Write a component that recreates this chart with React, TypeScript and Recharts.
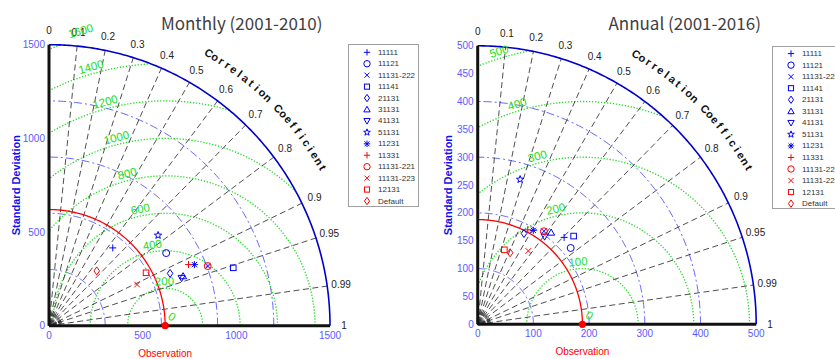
import React from 'react';
import { ScatterChart, Scatter, XAxis, YAxis } from 'recharts';

// ---------------- data ----------------
const modelNames = ['11111', '11121', '11131-222', '11141', '21131', '31131', '41131', '51131', '11231', '11331', '11131-221', '11131-223', '12131', 'Default'];
const modelMarkers = ['plus', 'circle', 'x', 'square', 'diamond', 'triangle', 'triangleDown', 'star', 'asterisk', 'plus', 'circle', 'x', 'square', 'diamond'];
const modelColors = ['#0000ff', '#0000ff', '#0000ff', '#0000ff', '#0000ff', '#0000ff', '#0000ff', '#0000ff', '#0000ff', '#ff0000', '#ff0000', '#ff0000', '#ff0000', '#ff0000'];

// Monthly (2001-2010): standard deviation and correlation of each model
const monthlyStd = [537, 736, 905, 1031, 704, 763, 752, 756, 842, 813, 905, 519, 590, 388];
const monthlyCorr = [0.634, 0.85, 0.936, 0.954, 0.918, 0.938, 0.941, 0.77, 0.922, 0.916, 0.936, 0.906, 0.878, 0.657];
const monthlyObs = 620;
const monthlyXTicks = [0, 500, 1000, 1500];
const monthlyYTicks = [0, 500, 1000, 1500];
const monthlyStdCircles = [300, 600, 900, 1200];
const monthlyRms = [200, 400, 600, 800, 1000, 1200, 1400, 1600];

// Annual (2001-2016)
const annualStd = [220, 216, 205, 234, 183, 211, 198, 271, 196, 192, 205, 160, 142, 141];
const annualCorr = [0.705, 0.773, 0.58, 0.736, 0.454, 0.625, 0.607, 0.281, 0.509, 0.468, 0.58, 0.568, 0.337, 0.413];
const annualObs = 188;
const annualXTicks = [0, 100, 200, 300, 400, 500];
const annualYTicks = [0, 50, 100, 150, 200, 250, 300, 350, 400, 450, 500];
const annualStdCircles = [100, 200, 300, 400];
const annualRms = [100, 200, 300, 400, 500];

const corrTicks = [0, 0.1, 0.2, 0.3, 0.4, 0.5, 0.6, 0.7, 0.8, 0.9, 0.95, 0.99, 1];
const corrLines = [0.1, 0.2, 0.3, 0.4, 0.5, 0.6, 0.7, 0.8, 0.9, 0.95, 0.99];
const corrMinor = [0.05, 0.15, 0.25, 0.35, 0.45, 0.55, 0.65, 0.75, 0.85, 0.91, 0.92, 0.93, 0.94, 0.96, 0.97, 0.98];
const corrTitle = 'Correlation Coefficient';

// ---------------- style ----------------
const F = 'Arial, "Liberation Sans", sans-serif';
const TICK_BLUE = '#5a5aff';
const GREEN = '#22dd22';
const DASHBLUE = '#3c3cff';

const monthlyCfg = {
  title: 'Monthly (2001-2010)', left: 0, R: 1500, ox: 49, oy: 325.7, k: 281 / 1500, Xmax: 1800, Ymax: 1700,
  xTicks: monthlyXTicks, yTicks: monthlyYTicks, obs: monthlyObs, std: monthlyStd, corr: monthlyCorr,
  stdCircles: monthlyStdCircles, rms: monthlyRms, rmsAngles: [91, 99, 102, 104, 104.5, 105, 106, 106],
  ylabelDx: -33, titleX: 241.7, legendX: 348, legendY: 44, legendRow0: 8.3, legendStep: 11.44,
};
const annualCfg = {
  title: 'Annual (2001-2016)', left: 415, R: 500, ox: 62.7, oy: 324.3, k: 0.557, Xmax: 600, Ymax: 560,
  xTicks: annualXTicks, yTicks: annualYTicks, obs: annualObs, std: annualStd, corr: annualCorr,
  stdCircles: annualStdCircles, rms: annualRms, rmsAngles: [94, 103, 105, 106.5, 107],
  ylabelDx: -29.4, titleX: 684.7, legendX: 772, legendY: 45.7, legendRow0: 7.6, legendStep: 11.54,
};

// ---------------- geometry helpers ----------------
const D2R = Math.PI / 180;
function arcPts(cx: number, r: number, a0: number, a1: number, n = 120) {
  const pts: { x: number; y: number }[] = [];
  for (let i = 0; i <= n; i++) {
    const a = (a0 + ((a1 - a0) * i) / n) * D2R;
    pts.push({ x: Math.max(0, cx + r * Math.cos(a)), y: Math.max(0, r * Math.sin(a)) });
  }
  return pts;
}
const clamp = (v: number, a: number, b: number) => Math.min(b, Math.max(a, v));
function rmsArc(c: number, r: number, R: number) {
  const a0 = Math.acos(clamp((R * R - c * c - r * r) / (2 * c * r), -1, 1)) / D2R;
  const a1 = Math.acos(clamp(-c / r, -1, 1)) / D2R;
  if (a0 >= a1) return null;
  return arcPts(c, r, a0, a1, 160);
}
function polar(r: number, corr: number) {
  return { x: Math.max(0, r * corr), y: Math.max(0, r * Math.sqrt(Math.max(0, 1 - corr * corr))) };
}

const Empty = () => <g />;

function textShape(style: any) {
  return (p: any) => {
    const d = p.payload || {};
    const x = p.cx + (d.dx || 0);
    const y = p.cy + (d.dy || 0);
    return (
      <text
        x={x}
        y={y}
        transform={d.rot ? `rotate(${d.rot} ${x} ${y})` : undefined}
        textAnchor="middle"
        dominantBaseline="central"
        fontFamily={F}
        {...style}
      >
        {d.text}
      </text>
    );
  };
}

function MarkerGlyph({ cx, cy, type, color, s = 3.5 }: any) {
  const common = { stroke: color, strokeWidth: 1, fill: 'none' };
  switch (type) {
    case 'plus':
      return <path d={`M${cx - s},${cy}H${cx + s}M${cx},${cy - s}V${cy + s}`} {...common} />;
    case 'circle':
      return <circle cx={cx} cy={cy} r={s} {...common} />;
    case 'x': {
      const t = s * 0.8;
      return <path d={`M${cx - t},${cy - t}L${cx + t},${cy + t}M${cx - t},${cy + t}L${cx + t},${cy - t}`} {...common} />;
    }
    case 'square': {
      const t = s * 0.8;
      return <rect x={cx - t} y={cy - t} width={2 * t} height={2 * t} {...common} />;
    }
    case 'diamond':
      return <path d={`M${cx},${cy - s * 1.15}L${cx + s * 0.8},${cy}L${cx},${cy + s * 1.15}L${cx - s * 0.8},${cy}Z`} {...common} />;
    case 'triangle':
      return <path d={`M${cx},${cy - s}L${cx + s},${cy + s * 0.75}L${cx - s},${cy + s * 0.75}Z`} {...common} />;
    case 'triangleDown':
      return <path d={`M${cx},${cy + s}L${cx + s},${cy - s * 0.75}L${cx - s},${cy - s * 0.75}Z`} {...common} />;
    case 'star': {
      let d = '';
      for (let i = 0; i < 10; i++) {
        const rr = i % 2 === 0 ? s * 1.1 : s * 0.45;
        const a = (-90 + i * 36) * D2R;
        d += `${i === 0 ? 'M' : 'L'}${cx + rr * Math.cos(a)},${cy + rr * Math.sin(a)}`;
      }
      return <path d={d + 'Z'} {...common} />;
    }
    case 'asterisk': {
      const t = s * 0.75;
      return (
        <path
          d={`M${cx - s},${cy}H${cx + s}M${cx},${cy - s}V${cy + s}M${cx - t},${cy - t}L${cx + t},${cy + t}M${cx - t},${cy + t}L${cx + t},${cy - t}`}
          {...common}
        />
      );
    }
    default:
      return <g />;
  }
}

const markerShape = (p: any) => <MarkerGlyph cx={p.cx} cy={p.cy} type={p.payload.marker} color={p.payload.color} />;

const obsShape = (p: any) => (
  <g>
    <circle cx={p.cx} cy={p.cy} r={3.6} fill="#ff0000" />
    <text x={p.cx} y={p.cy + 27.5} textAnchor="middle" dominantBaseline="central" fontFamily={F} fontSize={10} fill="#ff0000">
      Observation
    </text>
  </g>
);

const corrLabelShape = textShape({ fontSize: 10, fill: '#222' });
const curvedShape = textShape({ fontSize: 11, fontWeight: 'bold', fill: '#111' });
const rmsLabelShape = textShape({ fontSize: 11.5, fill: GREEN });
const ylabelShape = textShape({ fontSize: 11, fontWeight: 'bold', fill: '#1010ee' });

function Taylor({ c }: any) {
  const W = 420;
  const H = 359;
  const R = c.R;
  const margin = { top: c.oy - c.Ymax * c.k, right: W - c.ox - c.Xmax * c.k, bottom: 0, left: 0 };
  const tickStyle = { fill: TICK_BLUE, fontSize: 10, fontFamily: F };

  const stdArcs = c.stdCircles.map((s: number) => arcPts(0, s, 0, 90, 120));
  const rmsArcs = c.rms.map((r: number) => rmsArc(c.obs, r, R)).filter((a: any) => a);
  const radial = corrLines.map((cc) => [{ x: 0, y: 0 }, polar(R, cc)]);
  const minor = corrMinor.map((cc) => [{ x: 0, y: 0 }, polar(R * 0.05, cc)]);
  const outer = arcPts(0, R, 0, 90, 200);
  const obsArc = arcPts(0, c.obs, 0, 90, 160);
  const xAxisLine = [{ x: 0, y: 0 }, { x: R, y: 0 }];
  const yAxisLine = [{ x: 0, y: 0 }, { x: 0, y: R }];

  const corrLabels = corrTicks.map((cc) => ({ ...polar(R * 1.05, cc), text: String(cc) }));

  const chars = corrTitle.split('');
  const a0 = 59.6;
  const a1 = 30;
  const curved = chars.map((ch, i) => {
    const a = a0 + ((a1 - a0) * i) / (chars.length - 1);
    return { x: R * 1.125 * Math.cos(a * D2R), y: R * 1.125 * Math.sin(a * D2R), text: ch, rot: 90 - a };
  });

  const off = 7 / c.k;
  const rmsLabels = c.rms.map((r: number, i: number) => {
    const a = c.rmsAngles[i];
    return {
      x: Math.max(0, c.obs + (r + off) * Math.cos(a * D2R)),
      y: (r + off) * Math.sin(a * D2R),
      text: String(r),
      rot: 90 - a,
    };
  });
  rmsLabels.push({ x: c.obs, y: 0, text: '0', rot: 30, dx: 7, dy: -9 } as any);

  const ylabel = [{ x: 0, y: R / 2, text: 'Standard Deviation', rot: -90, dx: c.ylabelDx }];

  const models = c.std.map((s: number, i: number) => ({
    ...polar(s, c.corr[i]),
    marker: modelMarkers[i],
    color: modelColors[i],
    name: modelNames[i],
  }));

  return (
    <div style={{ position: 'absolute', left: c.left, top: 0 }}>
      <ScatterChart width={W} height={H} margin={margin}>
        <XAxis
          type="number"
          dataKey="x"
          domain={[0, c.Xmax]}
          ticks={c.xTicks}
          interval={0}
          height={H - c.oy}
          axisLine={false}
          tickLine={false}
          tickSize={4}
          tickMargin={2}
          tick={tickStyle}
        />
        <YAxis
          type="number"
          dataKey="y"
          domain={[0, c.Ymax]}
          ticks={c.yTicks}
          interval={0}
          width={c.ox}
          axisLine={false}
          tickLine={false}
          tickSize={2}
          tickMargin={2}
          tick={tickStyle}
        />
        {stdArcs.map((d: any, i: number) => (
          <Scatter key={'s' + i} data={d} shape={Empty} isAnimationActive={false}
            line={{ stroke: DASHBLUE, strokeWidth: 0.8, strokeDasharray: '8 3 2 3' }} />
        ))}
        {rmsArcs.map((d: any, i: number) => (
          <Scatter key={'g' + i} data={d} shape={Empty} isAnimationActive={false}
            line={{ stroke: GREEN, strokeWidth: 1.3, strokeDasharray: '1.3 1.7' }} />
        ))}
        {radial.map((d, i) => (
          <Scatter key={'r' + i} data={d} shape={Empty} isAnimationActive={false}
            line={{ stroke: '#222', strokeWidth: 0.8, strokeDasharray: '6 3.5' }} />
        ))}
        {minor.map((d, i) => (
          <Scatter key={'m' + i} data={d} shape={Empty} isAnimationActive={false}
            line={{ stroke: '#333', strokeWidth: 0.8, strokeDasharray: '3 2' }} />
        ))}
        <Scatter data={obsArc} shape={Empty} isAnimationActive={false} line={{ stroke: '#ff0000', strokeWidth: 1.3 }} />
        <Scatter data={outer} shape={Empty} isAnimationActive={false} line={{ stroke: '#0000cc', strokeWidth: 1.6 }} />
        <Scatter data={xAxisLine} shape={Empty} isAnimationActive={false} line={{ stroke: '#111', strokeWidth: 3 }} />
        <Scatter data={yAxisLine} shape={Empty} isAnimationActive={false} line={{ stroke: '#111', strokeWidth: 3 }} />
        <Scatter data={corrLabels} shape={corrLabelShape} isAnimationActive={false} />
        <Scatter data={curved} shape={curvedShape} isAnimationActive={false} />
        <Scatter data={rmsLabels} shape={rmsLabelShape} isAnimationActive={false} />
        <Scatter data={ylabel} shape={ylabelShape} isAnimationActive={false} />
        <Scatter data={models} shape={markerShape} isAnimationActive={false} />
        <Scatter data={[{ x: c.obs, y: 0 }]} shape={obsShape} isAnimationActive={false} />
      </ScatterChart>
    </div>
  );
}

function LegendBox({ c }: any) {
  const w = 71;
  const h = 163;
  return (
    <div style={{ position: 'absolute', left: c.legendX, top: c.legendY, width: w, height: h, border: '1px solid #a0a0a0', background: '#fff', boxSizing: 'border-box' }}>
      <svg width={w} height={h} style={{ position: 'absolute', left: -1, top: -1 }}>
        {modelNames.map((n, i) => {
          const y = c.legendRow0 + i * c.legendStep;
          return (
            <g key={n}>
              <MarkerGlyph cx={19} cy={y} type={modelMarkers[i]} color={modelColors[i]} s={3.2} />
              <text x={30} y={y} dominantBaseline="central" fontFamily={F} fontSize={8} fill="#333">
                {n}
              </text>
            </g>
          );
        })}
      </svg>
    </div>
  );
}

function Title({ c }: any) {
  return (
    <div
      style={{
        position: 'absolute', left: c.titleX - 120, top: 23.3 - 12, width: 240, height: 24, lineHeight: '24px',
        textAlign: 'center', fontFamily: '"Noto Sans CJK SC", "Noto Sans", sans-serif', fontSize: 17, color: '#404040',
      }}
    >
      {c.title}
    </div>
  );
}

export default function App() {
  return (
    <div style={{ position: 'absolute', left: 0, top: 0, width: 835, height: 359, overflow: 'hidden', background: '#fff' }}>
      <Taylor c={monthlyCfg} />
      <Taylor c={annualCfg} />
      <Title c={monthlyCfg} />
      <Title c={annualCfg} />
      <LegendBox c={monthlyCfg} />
      <LegendBox c={annualCfg} />
    </div>
  );
}
